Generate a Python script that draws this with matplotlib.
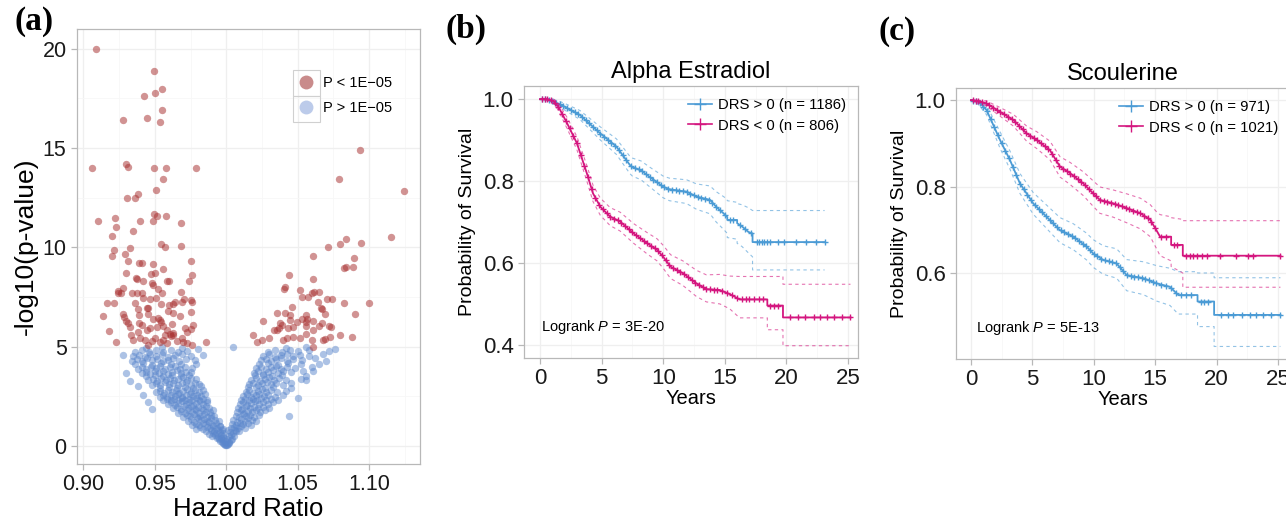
import numpy as np
import matplotlib
matplotlib.use("Agg")
import matplotlib.pyplot as plt
from matplotlib.lines import Line2D
from matplotlib.patches import Rectangle

plt.rcParams['font.family'] = ['Liberation Sans', 'DejaVu Sans']
plt.rcParams['mathtext.fontset'] = 'custom'
plt.rcParams['mathtext.rm'] = 'Liberation Sans'
plt.rcParams['mathtext.it'] = 'Liberation Sans:italic'

# ---- (a) volcano: hazard ratio vs -log10(p) ----
red_pts = [
    (0.9089, 20.0), (0.9497, 18.89), (0.9427, 17.6), (0.9504, 17.8), (0.9553, 18.0),
    (0.9549, 16.9), (0.9448, 16.5), (0.9537, 16.3), (0.9275, 16.4), (0.9063, 14.0),
    (0.9296, 14.2), (0.9315, 14.07), (0.9495, 14.0), (0.9576, 14.0), (0.9791, 14.0),
    (0.9558, 13.46), (0.9506, 12.9), (0.9303, 12.5), (0.9362, 12.5), (0.9385, 12.7),
    (0.9105, 11.3), (0.9222, 11.5), (0.9229, 11.0), (0.9399, 11.3), (0.9485, 11.35),
    (0.9495, 11.7), (0.9513, 11.6), (0.9576, 11.6), (0.9684, 11.2), (0.9198, 10.57),
    (0.9350, 10.84), (0.9546, 10.15), (0.9572, 10.03), (0.9680, 10.07), (0.9217, 9.87),
    (0.9198, 9.56), (0.9327, 9.95), (0.9290, 9.65), (0.9310, 9.3), (0.9390, 9.19),
    (0.9408, 9.19), (0.9490, 9.14), (0.9751, 9.33), (0.9560, 8.9), (0.9299, 8.7),
    (0.9366, 8.44), (0.9373, 8.4), (0.9420, 8.3), (0.9476, 8.64), (0.9502, 8.69),
    (0.9588, 8.3), (0.9602, 8.3), (0.9761, 8.59), (0.9737, 8.3), (0.9280, 7.97),
    (0.9264, 7.7), (0.9245, 7.8), (0.9240, 7.7), (0.9338, 7.68), (0.9373, 7.68),
    (0.9413, 7.68), (0.9478, 8.2), (0.9485, 8.1), (0.9520, 7.88), (0.9548, 7.68),
    (0.9686, 7.73), (0.9163, 7.18), (0.9215, 7.2), (0.9359, 7.2), (0.9420, 7.43),
    (0.9467, 7.38), (0.9506, 7.46), (0.9541, 7.14), (0.9597, 7.09), (0.9642, 7.24),
    (0.9630, 7.13), (0.9707, 7.38), (0.9751, 7.34), (0.9763, 7.26), (0.9688, 7.26),
    (0.9140, 6.54), (0.9275, 6.62), (0.9287, 6.5), (0.9299, 6.29), (0.9385, 6.89),
    (0.9443, 6.92), (0.9453, 6.96), (0.9392, 6.59), (0.9455, 6.62), (0.9485, 6.37),
    (0.9525, 6.42), (0.9537, 6.34), (0.9541, 6.25), (0.9595, 6.79), (0.9630, 6.67),
    (0.9618, 6.12), (0.9677, 6.54), (0.9751, 6.76), (0.9177, 5.78), (0.9315, 6.17),
    (0.9327, 6.0), (0.9392, 6.17), (0.9408, 6.08), (0.9385, 5.75), (0.9443, 5.83),
    (0.9467, 5.92), (0.9513, 6.0), (0.9560, 6.03), (0.9583, 5.83), (0.9607, 5.61),
    (0.9630, 5.66), (0.9712, 5.92), (0.9723, 5.75), (0.9765, 6.08), (0.9751, 5.87),
    (0.9229, 5.24), (0.9331, 5.58), (0.9350, 5.33), (0.9397, 5.41), (0.9432, 5.33),
    (0.9478, 5.29), (0.9537, 5.24), (0.9560, 5.33), (0.9572, 5.58), (0.9583, 5.16),
    (0.9611, 5.53), (0.9630, 5.58), (0.9688, 5.41), (0.9700, 5.24), (0.9723, 5.16),
    (0.9758, 5.08), (0.9856, 5.21), (0.9455, 5.1), (0.9500, 5.45), (0.9655, 5.3),
    (1.0932, 14.9), (1.0785, 13.45), (1.1245, 12.86), (1.1154, 10.5), (1.0711, 10.03),
    (1.0797, 10.15), (1.0837, 10.4), (1.0942, 10.2), (1.0610, 9.56), (1.0890, 9.48),
    (1.0825, 8.94), (1.0837, 9.02), (1.0886, 9.02), (1.0438, 8.59), (1.0610, 8.42),
    (1.0412, 8.02), (1.0405, 7.9), (1.0517, 7.85), (1.0599, 7.71), (1.0615, 7.76),
    (1.0652, 7.76), (1.0529, 7.51), (1.0575, 7.51), (1.0643, 7.26), (1.0706, 7.39),
    (1.0739, 7.39), (1.0820, 7.18), (1.0995, 7.21), (1.0660, 6.95), (1.0670, 6.88),
    (1.0459, 7.0), (1.0354, 6.67), (1.0412, 6.67), (1.0447, 6.59), (1.0559, 6.59),
    (1.0568, 6.37), (1.0559, 6.25), (1.0692, 6.64), (1.0902, 6.62), (1.0260, 6.3),
    (1.0377, 6.17), (1.0389, 6.08), (1.0447, 6.34), (1.0494, 6.25), (1.0529, 6.37),
    (1.0610, 6.3), (1.0669, 6.17), (1.0716, 6.03), (1.0335, 5.83), (1.0354, 5.83),
    (1.0372, 5.92), (1.0435, 5.92), (1.0470, 6.0), (1.0559, 6.03), (1.0559, 5.61),
    (1.0606, 5.83), (1.0652, 6.03), (1.0734, 6.0), (1.0190, 5.58), (1.0214, 5.24),
    (1.0249, 5.33), (1.0302, 5.41), (1.0396, 5.33), (1.0428, 5.41), (1.0470, 5.5),
    (1.0517, 5.41), (1.0599, 5.33), (1.0792, 5.58), (1.0879, 5.5), (1.0606, 5.0),
    (1.0676, 5.33), (1.0692, 5.36), (1.0727, 5.5),
]

blue_pts = [
    (0.9990, 0.02), (0.9996, 0.05), (1.0004, 0.04), (1.0010, 0.08), (0.9982, 0.10),
    (0.9975, 0.14), (1.0016, 0.13), (0.9968, 0.19), (0.9988, 0.22), (1.0022, 0.20),
    (0.9958, 0.26), (0.9978, 0.29), (1.0030, 0.27), (0.9948, 0.33), (0.9966, 0.37),
    (1.0008, 0.35), (1.0040, 0.36), (0.9938, 0.40), (0.9985, 0.41),
    (0.9900, 0.47), (0.9920, 0.52), (0.9945, 0.45), (0.9962, 0.55), (0.9980, 0.50),
    (1.0018, 0.48), (1.0035, 0.56), (1.0052, 0.50), (0.9880, 0.60), (0.9905, 0.66),
    (0.9930, 0.62), (0.9955, 0.70), (0.9975, 0.64), (1.0025, 0.68), (1.0048, 0.63),
    (1.0070, 0.72), (0.9860, 0.75), (0.9890, 0.79), (0.9915, 0.73), (0.9940, 0.80),
    (0.9968, 0.77), (1.0010, 0.78), (1.0062, 0.80), (1.0090, 0.76),
    (0.9790, 0.86), (0.9815, 0.92), (0.9840, 0.84), (0.9862, 0.95), (0.9885, 0.88),
    (0.9910, 0.98), (0.9935, 0.90), (0.9958, 0.97), (0.9980, 0.86), (1.0030, 0.88),
    (1.0055, 0.96), (1.0080, 0.90), (1.0105, 0.98), (1.0130, 0.87), (0.9760, 1.05),
    (0.9785, 1.12), (0.9810, 1.03), (0.9835, 1.15), (0.9858, 1.08), (0.9880, 1.18),
    (0.9905, 1.06), (0.9930, 1.14), (0.9955, 1.02), (1.0042, 1.10), (1.0068, 1.04),
    (1.0095, 1.16), (1.0120, 1.08), (1.0150, 1.13), (1.0175, 1.05),
    (0.9730, 1.25), (0.9752, 1.33), (0.9775, 1.22), (0.9800, 1.38), (0.9822, 1.28),
    (0.9845, 1.35), (0.9870, 1.24), (0.9895, 1.40), (0.9920, 1.30), (0.9948, 1.27),
    (1.0050, 1.30), (1.0078, 1.22), (1.0102, 1.36), (1.0128, 1.27), (1.0155, 1.40),
    (1.0182, 1.31), (1.0210, 1.25), (0.9700, 1.45), (0.9725, 1.55), (0.9748, 1.48),
    (0.9772, 1.58), (0.9795, 1.46), (0.9818, 1.52), (0.9842, 1.60), (0.9868, 1.44),
    (0.9890, 1.56), (0.9915, 1.50), (1.0065, 1.52), (1.0090, 1.45), (1.0115, 1.58),
    (1.0140, 1.48), (1.0168, 1.55), (1.0195, 1.45), (1.0230, 1.57),
    (0.9660, 1.66), (0.9685, 1.75), (0.9710, 1.64), (0.9735, 1.80), (0.9760, 1.70),
    (0.9785, 1.78), (0.9810, 1.66), (0.9835, 1.82), (0.9860, 1.72), (0.9885, 1.68),
    (0.9905, 1.79), (1.0075, 1.70), (1.0100, 1.80), (1.0125, 1.66), (1.0150, 1.76),
    (1.0178, 1.68), (1.0205, 1.82), (1.0235, 1.72), (1.0270, 1.78), (0.9630, 1.88),
    (0.9655, 1.96), (0.9680, 1.86), (0.9705, 1.98), (0.9730, 1.90), (0.9755, 2.00),
    (0.9780, 1.87), (0.9805, 1.95), (0.9830, 1.91), (0.9858, 1.99), (0.9880, 1.88),
    (1.0085, 1.92), (1.0112, 1.87), (1.0138, 1.98), (1.0165, 1.90), (1.0192, 1.96),
    (1.0220, 1.88), (1.0255, 1.97), (1.0300, 1.92), (0.9478, 1.85), (1.0440, 1.52),
    (0.9590, 2.08), (0.9615, 2.18), (0.9640, 2.05), (0.9665, 2.15), (0.9690, 2.24),
    (0.9715, 2.10), (0.9740, 2.20), (0.9765, 2.06), (0.9790, 2.16), (0.9815, 2.26),
    (0.9840, 2.12), (0.9865, 2.22), (1.0095, 2.10), (1.0120, 2.20), (1.0148, 2.06),
    (1.0175, 2.16), (1.0202, 2.25), (1.0230, 2.12), (1.0260, 2.20), (1.0290, 2.08),
    (1.0330, 2.18), (0.9560, 2.30), (0.9585, 2.38), (0.9610, 2.28), (0.9635, 2.36),
    (0.9660, 2.32), (0.9688, 2.40), (0.9712, 2.30), (0.9738, 2.38), (0.9762, 2.33),
    (0.9788, 2.40), (0.9812, 2.31), (0.9838, 2.37), (0.9862, 2.30), (1.0105, 2.32),
    (1.0132, 2.38), (1.0160, 2.30), (1.0188, 2.36), (1.0215, 2.31), (1.0245, 2.39),
    (1.0275, 2.33), (1.0310, 2.37), (1.0360, 2.30), (0.9450, 2.20), (1.0500, 2.40),
    (0.9535, 2.48), (0.9560, 2.56), (0.9588, 2.46), (0.9612, 2.58), (0.9640, 2.50),
    (0.9665, 2.60), (0.9692, 2.47), (0.9718, 2.55), (0.9745, 2.62), (0.9770, 2.49),
    (0.9798, 2.57), (0.9825, 2.52), (0.9850, 2.60), (1.0120, 2.50), (1.0148, 2.60),
    (1.0175, 2.46), (1.0205, 2.56), (1.0232, 2.62), (1.0262, 2.50), (1.0295, 2.58),
    (1.0340, 2.48), (1.0400, 2.55), (0.9510, 2.70), (0.9538, 2.78), (0.9565, 2.68),
    (0.9590, 2.82), (0.9618, 2.72), (0.9645, 2.80), (0.9672, 2.67), (0.9700, 2.76),
    (0.9728, 2.84), (0.9755, 2.70), (0.9782, 2.79), (0.9810, 2.73), (0.9835, 2.83),
    (1.0135, 2.72), (1.0162, 2.80), (1.0190, 2.68), (1.0220, 2.78), (1.0250, 2.84),
    (1.0280, 2.72), (1.0315, 2.80), (1.0355, 2.70), (1.0420, 2.76), (0.9540, 2.92),
    (0.9598, 2.98), (0.9655, 2.90), (0.9712, 2.97), (0.9770, 2.91), (0.9820, 2.99),
    (1.0150, 2.94), (1.0210, 2.98), (1.0270, 2.91), (1.0330, 2.97), (0.9420, 2.55),
    (0.9380, 3.00), (1.0450, 2.90),
    (0.9480, 3.08), (0.9510, 3.16), (0.9540, 3.05), (0.9570, 3.20), (0.9600, 3.10),
    (0.9630, 3.18), (0.9660, 3.06), (0.9690, 3.14), (0.9720, 3.22), (0.9750, 3.08),
    (0.9780, 3.17), (0.9810, 3.12), (1.0160, 3.10), (1.0190, 3.18), (1.0220, 3.06),
    (1.0250, 3.16), (1.0282, 3.22), (1.0315, 3.10), (1.0350, 3.18), (1.0395, 3.08),
    (1.0450, 3.15), (0.9330, 3.25), (0.9455, 3.30), (0.9485, 3.38), (0.9515, 3.28),
    (0.9545, 3.40), (0.9575, 3.32), (0.9605, 3.42), (0.9635, 3.29), (0.9665, 3.37),
    (0.9695, 3.44), (0.9725, 3.31), (0.9755, 3.40), (0.9790, 3.35), (1.0175, 3.32),
    (1.0205, 3.40), (1.0238, 3.28), (1.0268, 3.38), (1.0300, 3.44), (1.0335, 3.31),
    (1.0372, 3.40), (1.0420, 3.30), (1.0520, 3.38), (0.9440, 3.52), (0.9500, 3.58),
    (0.9560, 3.50), (0.9620, 3.56), (0.9680, 3.52), (0.9740, 3.58), (1.0200, 3.54),
    (1.0260, 3.58), (1.0320, 3.51), (1.0390, 3.57), (1.0560, 3.50), (1.0560, 3.30),
    (0.9410, 3.66), (0.9440, 3.74), (0.9470, 3.64), (0.9500, 3.78), (0.9530, 3.68),
    (0.9560, 3.76), (0.9590, 3.62), (0.9620, 3.72), (0.9652, 3.80), (0.9685, 3.66),
    (0.9718, 3.74), (0.9755, 3.70), (1.0195, 3.68), (1.0225, 3.76), (1.0258, 3.64),
    (1.0290, 3.74), (1.0325, 3.80), (1.0360, 3.67), (1.0400, 3.75), (1.0450, 3.70),
    (1.0540, 3.78), (0.9380, 3.88), (0.9410, 3.96), (0.9442, 3.86), (0.9475, 3.98),
    (0.9508, 3.90), (0.9540, 4.00), (0.9572, 3.87), (0.9605, 3.95), (0.9640, 4.02),
    (0.9675, 3.89), (0.9712, 3.97), (0.9760, 3.92), (1.0210, 3.90), (1.0242, 3.98),
    (1.0275, 3.86), (1.0310, 3.96), (1.0345, 4.02), (1.0382, 3.88), (1.0425, 3.96),
    (1.0480, 3.90), (1.0600, 3.98), (0.9360, 4.10), (0.9420, 4.16), (0.9480, 4.08),
    (0.9545, 4.18), (0.9610, 4.10), (0.9680, 4.14), (0.9790, 4.12), (1.0230, 4.12),
    (1.0295, 4.18), (1.0360, 4.09), (1.0430, 4.16), (1.0520, 4.10), (1.0650, 4.14),
    (0.9300, 3.65), (1.0610, 3.75),
    (0.9340, 4.28), (0.9375, 4.36), (0.9410, 4.26), (0.9445, 4.40), (0.9480, 4.30),
    (0.9518, 4.38), (0.9555, 4.25), (0.9592, 4.34), (0.9630, 4.42), (0.9670, 4.28),
    (0.9715, 4.36), (0.9780, 4.31), (1.0240, 4.30), (1.0275, 4.38), (1.0312, 4.26),
    (1.0348, 4.36), (1.0385, 4.42), (1.0425, 4.29), (1.0470, 4.37), (1.0530, 4.32),
    (1.0620, 4.40), (1.0700, 4.27), (0.9275, 4.55), (0.9350, 4.50), (0.9390, 4.58),
    (0.9430, 4.48), (0.9470, 4.62), (0.9510, 4.52), (0.9552, 4.60), (0.9595, 4.47),
    (0.9640, 4.56), (0.9690, 4.63), (0.9750, 4.50), (0.9840, 4.57), (1.0260, 4.52),
    (1.0300, 4.60), (1.0340, 4.48), (1.0380, 4.58), (1.0422, 4.64), (1.0465, 4.51),
    (1.0515, 4.59), (1.0580, 4.53), (1.0680, 4.60), (0.9360, 4.72), (0.9410, 4.80),
    (0.9460, 4.70), (0.9510, 4.84), (0.9560, 4.74), (0.9610, 4.82), (0.9665, 4.71),
    (0.9725, 4.79), (0.9800, 4.86), (1.0290, 4.74), (1.0340, 4.82), (1.0390, 4.70),
    (1.0445, 4.80), (1.0505, 4.76), (1.0580, 4.84), (1.0720, 4.78), (1.0760, 4.88),
    (0.9440, 4.93), (0.9550, 4.96), (0.9690, 4.92), (1.0050, 4.97), (1.0420, 4.94),
    (1.0560, 4.96),
]

# ---- (b) Alpha Estradiol: KM polylines (time, survival, lower CI, upper CI) ----
b_pos_t = [0, 0.5, 1.0, 1.9, 3.25, 4.9, 6.2, 7.3, 7.5, 8.2, 8.9, 10.0, 10.5, 11.9, 12.7,
           13.8, 14.3, 14.9, 15.2, 15.2, 16.0, 16.0, 16.4, 16.9, 17.25, 17.25, 23.1]
b_pos_s = [1.0, 1.0, 0.995, 0.983, 0.961, 0.916, 0.884, 0.839, 0.834, 0.826, 0.810, 0.786,
           0.780, 0.774, 0.762, 0.754, 0.737, 0.721, 0.712, 0.705, 0.705, 0.697, 0.689,
           0.676, 0.672, 0.651, 0.651]
b_pos_lo = [1.0, 1.0, 0.990, 0.975, 0.950, 0.900, 0.865, 0.818, 0.812, 0.803, 0.786, 0.759,
            0.752, 0.745, 0.731, 0.720, 0.700, 0.682, 0.672, 0.662, 0.658, 0.648, 0.640,
            0.625, 0.615, 0.583, 0.583]
b_pos_hi = [1.0, 1.0, 1.0, 0.991, 0.972, 0.932, 0.903, 0.860, 0.856, 0.849, 0.834, 0.812,
            0.807, 0.803, 0.793, 0.788, 0.774, 0.762, 0.755, 0.752, 0.748, 0.745, 0.742,
            0.735, 0.728, 0.728, 0.728]
b_pos_cens = [0.2, 0.4, 0.7, 1.0, 1.3, 1.6, 1.9, 2.2, 2.5, 2.8, 3.1, 3.4, 3.7, 4.0, 4.3,
              4.6, 4.9, 5.2, 5.5, 5.8, 6.1, 6.4, 6.7, 7.0, 7.4, 7.7, 8.0, 8.3, 8.6, 8.9,
              9.2, 9.5, 9.8, 10.1, 10.4, 10.7, 11.0, 11.3, 11.6, 11.9, 12.2, 12.5, 12.8,
              13.1, 13.4, 13.7, 14.0, 14.3, 14.6, 15.0, 15.4, 15.7, 16.2, 16.6, 17.1,
              17.6, 17.8, 18.0, 18.2, 18.4, 18.7, 19.3, 19.8, 20.8, 21.6, 22.4, 23.1]

b_neg_t = [0, 0.5, 1.1, 1.5, 2.2, 3.0, 3.8, 4.3, 4.9, 5.7, 6.5, 7.6, 8.7, 9.5, 10.0,
           10.6, 11.6, 12.7, 13.5, 14.6, 15.4, 16.2, 18.45, 18.45, 19.72, 19.72, 25.2]
b_neg_s = [1.0, 1.0, 0.995, 0.981, 0.941, 0.892, 0.819, 0.770, 0.737, 0.713, 0.701, 0.672,
           0.648, 0.632, 0.615, 0.591, 0.575, 0.550, 0.536, 0.534, 0.524, 0.511, 0.511,
           0.496, 0.496, 0.467, 0.467]
b_neg_lo = [1.0, 1.0, 0.990, 0.972, 0.928, 0.876, 0.800, 0.750, 0.716, 0.691, 0.678, 0.648,
            0.622, 0.605, 0.587, 0.562, 0.545, 0.518, 0.505, 0.500, 0.488, 0.466, 0.466,
            0.437, 0.437, 0.398, 0.398]
b_neg_hi = [1.0, 1.0, 1.0, 0.990, 0.955, 0.908, 0.838, 0.790, 0.758, 0.735, 0.724, 0.696,
            0.674, 0.659, 0.643, 0.620, 0.605, 0.582, 0.571, 0.572, 0.568, 0.567, 0.567,
            0.567, 0.567, 0.548, 0.548]
b_neg_cens = [0.2, 0.4, 0.6, 0.9, 1.2, 1.5, 1.8, 2.1, 2.4, 2.7, 3.0, 3.3, 3.6, 3.9, 4.2,
              4.5, 4.8, 5.1, 5.4, 5.7, 6.0, 6.3, 6.6, 6.9, 7.2, 7.5, 7.8, 8.1, 8.4, 8.7,
              9.0, 9.3, 9.6, 9.9, 10.2, 10.5, 10.8, 11.1, 11.4, 11.7, 12.0, 12.3, 12.6,
              12.9, 13.2, 13.5, 13.8, 14.1, 14.4, 14.8, 15.2, 15.6, 16.0, 16.4, 16.7,
              17.0, 17.4, 17.8, 18.1, 18.7, 19.0, 19.3, 20.3, 20.9, 21.5, 22.2, 22.7,
              23.3, 23.9, 24.5, 25.2]

# ---- (c) Scoulerine ----
c_pos_t = [0, 0.6, 1.27, 2.36, 3.18, 3.99, 5.07, 6.16, 7.25, 8.33, 9.42, 9.96, 10.77,
           11.86, 12.68, 14.03, 15.12, 16.2, 16.88, 18.45, 18.45, 19.8, 19.8, 25.2]
c_pos_s = [1.0, 0.997, 0.977, 0.908, 0.861, 0.807, 0.761, 0.730, 0.699, 0.684, 0.661,
           0.645, 0.630, 0.622, 0.595, 0.588, 0.576, 0.568, 0.549, 0.549, 0.534, 0.534,
           0.503, 0.503]
c_pos_lo = [1.0, 0.990, 0.966, 0.889, 0.840, 0.784, 0.736, 0.703, 0.670, 0.654, 0.630,
            0.613, 0.597, 0.588, 0.559, 0.550, 0.535, 0.525, 0.505, 0.505, 0.476, 0.476,
            0.430, 0.430]
c_pos_hi = [1.0, 1.0, 0.988, 0.927, 0.882, 0.830, 0.786, 0.757, 0.728, 0.714, 0.692,
            0.677, 0.663, 0.656, 0.631, 0.626, 0.617, 0.611, 0.603, 0.603, 0.600, 0.600,
            0.589, 0.589]
c_pos_cens = [0.2, 0.4, 0.7, 1.0, 1.3, 1.6, 1.9, 2.2, 2.5, 2.8, 3.1, 3.4, 3.7, 4.0, 4.3,
              4.6, 4.9, 5.2, 5.5, 5.8, 6.1, 6.4, 6.7, 7.0, 7.3, 7.6, 7.9, 8.2, 8.5, 8.8,
              9.1, 9.4, 9.7, 10.0, 10.3, 10.6, 10.9, 11.2, 11.5, 11.8, 12.1, 12.4, 12.7,
              13.0, 13.3, 13.6, 13.9, 14.2, 14.5, 14.8, 15.1, 15.5, 15.9, 16.3, 16.7,
              17.1, 17.5, 17.9, 18.7, 19.0, 19.3, 20.4, 20.9, 21.3, 22.1, 22.7, 23.2,
              23.8, 24.4, 25.2]

c_neg_t = [0, 0.6, 1.27, 2.36, 3.45, 4.53, 5.35, 6.43, 7.25, 8.06, 9.15, 9.96, 10.5, 11.6,
           12.7, 13.8, 14.6, 15.1, 15.4, 16.3, 16.3, 17.25, 17.25, 25.2]
c_neg_s = [1.0, 0.998, 0.992, 0.973, 0.954, 0.923, 0.908, 0.884, 0.846, 0.831, 0.807,
           0.784, 0.769, 0.761, 0.750, 0.738, 0.723, 0.699, 0.684, 0.684, 0.665, 0.665,
           0.640, 0.640]
c_neg_lo = [1.0, 0.995, 0.986, 0.963, 0.940, 0.905, 0.888, 0.862, 0.822, 0.805, 0.779,
            0.754, 0.738, 0.729, 0.716, 0.702, 0.684, 0.657, 0.640, 0.628, 0.615, 0.600,
            0.567, 0.567]
c_neg_hi = [1.0, 1.0, 0.998, 0.983, 0.967, 0.940, 0.927, 0.905, 0.869, 0.856, 0.834,
            0.813, 0.799, 0.792, 0.783, 0.773, 0.758, 0.742, 0.735, 0.730, 0.728, 0.724,
            0.721, 0.721]
c_neg_cens = [0.2, 0.4, 0.6, 0.9, 1.2, 1.5, 1.8, 2.1, 2.4, 2.7, 3.0, 3.3, 3.6, 3.9, 4.2,
              4.5, 4.8, 5.1, 5.4, 5.7, 6.0, 6.3, 6.6, 6.9, 7.2, 7.5, 7.8, 8.1, 8.4, 8.7,
              9.0, 9.3, 9.6, 9.9, 10.2, 10.5, 10.8, 11.1, 11.4, 11.7, 12.0, 12.3, 12.6,
              12.9, 13.2, 13.5, 13.8, 14.1, 14.4, 14.7, 15.0, 15.5, 15.9, 16.5, 16.8,
              17.5, 17.8, 18.1, 18.4, 18.8, 19.2, 20.3, 21.6, 22.6, 23.0, 25.2]

BLUE = '#4b9bd5'
MAGENTA = '#d4167f'
EDGE = '#b8b8b8'
GRID = '#efefef'

fig = plt.figure(figsize=(12.86, 5.2), dpi=100)


def style_axes(ax, fs):
    for sp in ax.spines.values():
        sp.set_color(EDGE)
        sp.set_linewidth(0.9)
    ax.tick_params(colors=EDGE, labelcolor='#1a1a1a', labelsize=fs, length=4, width=0.9)
    ax.grid(True, which='major', color=GRID, lw=0.9)
    ax.grid(True, which='minor', color='#f7f7f7', lw=0.6)
    ax.set_axisbelow(True)


# panel a
axa = fig.add_axes([77 / 1286, 1 - 464 / 520, 343 / 1286, 435 / 520])
rx, ry = zip(*red_pts)
bx, by = zip(*blue_pts)
axa.scatter(bx, by, s=28, color='#5a86cc', alpha=0.5, lw=0)
axa.scatter(rx, ry, s=28, color='#a83030', alpha=0.52, lw=0)
axa.set_xlim(0.8956, 1.1355)
axa.set_ylim(-0.92, 21.0)
axa.set_xticks([0.90, 0.95, 1.00, 1.05, 1.10])
axa.set_xticklabels(['0.90', '0.95', '1.00', '1.05', '1.10'])
axa.set_yticks([0, 5, 10, 15, 20])
axa.set_xticks([0.925, 0.975, 1.025, 1.075, 1.125], minor=True)
axa.set_yticks([2.5, 7.5, 12.5, 17.5], minor=True)
axa.tick_params(which='minor', length=0)
style_axes(axa, 15.5)
axa.set_xlabel('Hazard Ratio', fontsize=18.5, labelpad=1)
axa.set_ylabel('-log10(p-value)', fontsize=19, labelpad=3)
leg_a = [Line2D([], [], ls='none', marker='o', ms=10, color='#c98b8b', mec='none'),
         Line2D([], [], ls='none', marker='o', ms=10, color='#bccbea', mec='none')]
axa.legend(leg_a, ['P < 1E\u221205', 'P > 1E\u221205'], loc='upper left',
           bbox_to_anchor=((293 - 77) / 343, (464 - 76) / 435), frameon=False,
           fontsize=10.5, handletextpad=0.2, labelspacing=0.78, handlelength=1.85,
           borderpad=0, borderaxespad=0)
# grey key boxes around the legend circles
for top in (70, 96):
    fig.patches.append(Rectangle((293 / 1286, 1 - (top + 26) / 520), 27 / 1286, 26 / 520,
                                 transform=fig.transFigure, fill=False,
                                 edgecolor='#d0d0d0', lw=0.8))


def km_panel(rect, xlim, ylim, yticks, title, groups, ptext, pxy):
    ax = fig.add_axes(rect)
    handles, labels = [], []
    for t, s, lo, hi, cens, color, label in groups:
        ax.plot(t, lo, color=color, lw=0.8, ls=(0, (3, 3)), alpha=0.6)
        ax.plot(t, hi, color=color, lw=0.8, ls=(0, (3, 3)), alpha=0.6)
        ax.plot(t, s, color=color, lw=1.3)
        ax.plot(cens, np.interp(cens, t, s), ls='none', marker='+', ms=5, mew=1.0,
                color=color)
        handles.append(Line2D([], [], color=color, lw=1.2, marker='+', ms=9, mew=1.0))
        labels.append(label)
    ax.set_xlim(*xlim)
    ax.set_ylim(*ylim)
    ax.set_xticks([0, 5, 10, 15, 20, 25])
    ax.set_yticks(yticks)
    ax.set_yticklabels(['%.1f' % v for v in yticks])
    ax.set_xticks([2.5, 7.5, 12.5, 17.5, 22.5], minor=True)
    ax.tick_params(which='minor', length=0)
    style_axes(ax, 16)
    ax.set_xlabel('Years', fontsize=14.5, labelpad=0)
    ax.set_ylabel('Probability of Survival', fontsize=14, labelpad=5)
    ax.set_title(title, fontsize=17, pad=6)
    ax.legend(handles, labels, loc='upper right', bbox_to_anchor=(1.0, 1.0),
              frameon=False, fontsize=10.7, handlelength=1.6, handletextpad=0.4,
              labelspacing=0.45, borderaxespad=0.4)
    ax.text(pxy[0], pxy[1], ptext, transform=ax.transAxes, fontsize=10.5)
    return ax


km_panel([524 / 1286, 1 - 358 / 520, 334 / 1286, 272 / 520], (-1.3, 25.81), (0.368, 1.032),
         [0.4, 0.6, 0.8, 1.0], 'Alpha Estradiol',
         [(b_pos_t, b_pos_s, b_pos_lo, b_pos_hi, b_pos_cens, BLUE, 'DRS > 0 (n = 1186)'),
          (b_neg_t, b_neg_s, b_neg_lo, b_neg_hi, b_neg_cens, MAGENTA, 'DRS < 0 (n = 806)')],
         r'Logrank $P$ = 3E-20', (0.05, 0.1))

km_panel([956 / 1286, 1 - 359 / 520, 334 / 1286, 271 / 520], (-1.22, 25.98), (0.401, 1.028),
         [0.6, 0.8, 1.0], 'Scoulerine',
         [(c_pos_t, c_pos_s, c_pos_lo, c_pos_hi, c_pos_cens, BLUE, 'DRS > 0 (n = 971)'),
          (c_neg_t, c_neg_s, c_neg_lo, c_neg_hi, c_neg_cens, MAGENTA, 'DRS < 0 (n = 1021)')],
         r'Logrank $P$ = 5E-13', (0.06, 0.1))

serif = ['Liberation Serif', 'DejaVu Serif']
fig.text(14 / 1286, 1 - 6 / 520, '(a)', family=serif, weight='bold', fontsize=24, va='top')
fig.text(446 / 1286, 1 - 14 / 520, '(b)', family=serif, weight='bold', fontsize=24, va='top')
fig.text(878 / 1286, 1 - 16 / 520, '(c)', family=serif, weight='bold', fontsize=24, va='top')

fig.savefig('out.png', dpi=100, facecolor='white')
